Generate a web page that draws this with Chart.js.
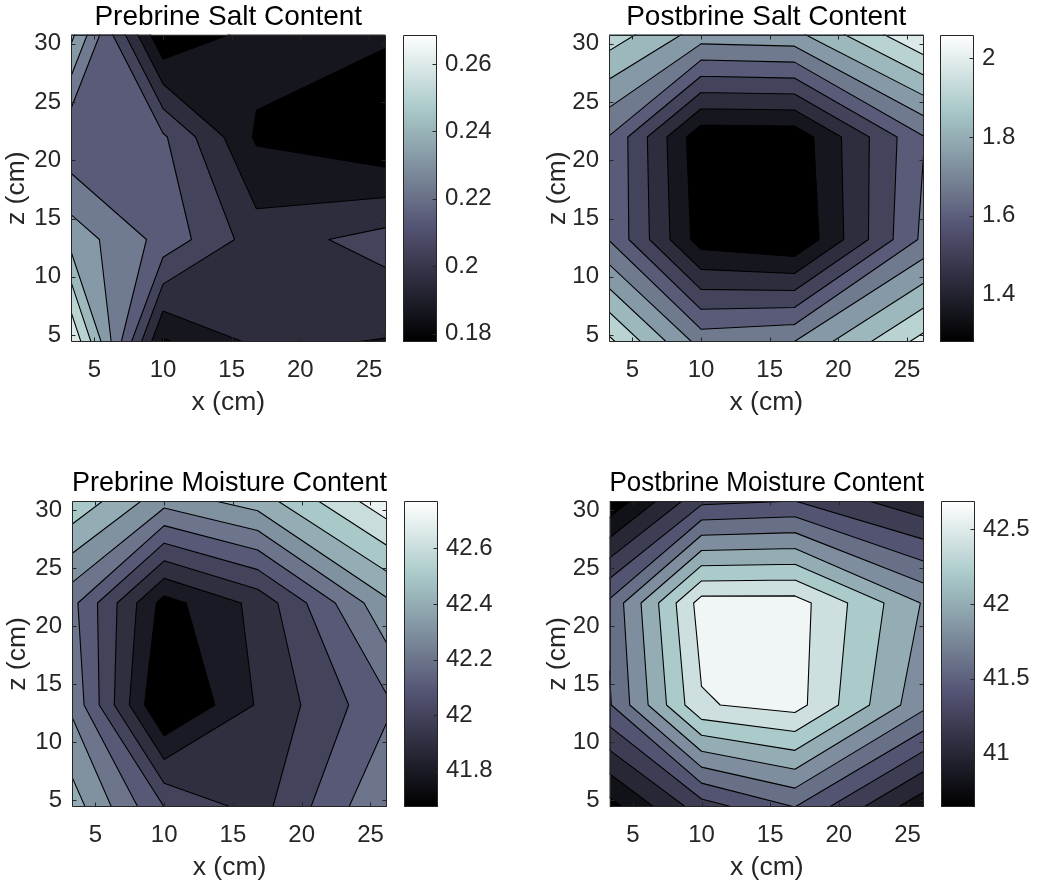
<!DOCTYPE html>
<html>
<head>
<meta charset="utf-8">
<title>Prebrine / Postbrine salt and moisture content</title>
<script src="https://cdn.jsdelivr.net/npm/chart.js@4.4.1/dist/chart.umd.min.js"></script>
<style>
  html, body { margin: 0; padding: 0; background: #ffffff; }
  #fig { position: relative; width: 1042px; height: 886px; overflow: hidden; background: #ffffff; }
  #fig canvas { position: absolute; }
</style>
</head>
<body>
<div id="fig"></div>
<script>
// ---------------- data ----------------
const xPos = [3.3, 10, 16.8, 26.2];      // sampling positions x (cm)
const zPos = [4.4, 13.2, 22, 30.8];      // sampling positions z (cm)
const xTicks = [5, 10, 15, 20, 25];
const zTicks = [5, 10, 15, 20, 25, 30];

// Prebrine salt content, one row per z (bottom to top), one value per x
const preSaltZ1 = [0.2688, 0.1853, 0.1975, 0.1953];
const preSaltZ2 = [0.2378, 0.2200, 0.2003, 0.2085];
const preSaltZ3 = [0.2152, 0.2154, 0.1853, 0.1775];
const preSaltZ4 = [0.2441, 0.1775, 0.1903, 0.1880];
const preSaltLevels = [0.1866, 0.1958, 0.2049, 0.2140, 0.2232, 0.2323, 0.2414, 0.2506, 0.2597];
const preSaltCbTicks = [0.18, 0.2, 0.22, 0.24, 0.26];

// Postbrine salt content
const postSaltZ1 = [2.002, 1.720, 1.750, 2.011];
const postSaltZ2 = [1.667, 1.319, 1.280, 1.688];
const postSaltZ3 = [1.667, 1.300, 1.304, 1.666];
const postSaltZ4 = [1.949, 1.793, 1.805, 2.060];
const postSaltLevels = [1.358, 1.436, 1.514, 1.592, 1.670, 1.748, 1.826, 1.904, 1.982];
const postSaltCbTicks = [1.4, 1.6, 1.8, 2];

// Prebrine moisture content
const preMoistZ1 = [42.45, 42.10, 41.96, 42.30];
const preMoistZ2 = [42.28, 41.67, 41.91, 42.18];
const preMoistZ3 = [42.23, 41.76, 41.93, 42.38];
const preMoistZ4 = [42.58, 42.34, 42.45, 42.77];
const preMoistLevels = [41.8, 41.9, 42.0, 42.1, 42.2, 42.3, 42.4, 42.5, 42.6, 42.7];
const preMoistCbTicks = [41.8, 42, 42.2, 42.4, 42.6];

// Postbrine moisture content
const postMoistZ1 = [40.72, 41.30, 41.60, 40.85];
const postMoistZ2 = [41.58, 42.58, 42.68, 41.85];
const postMoistZ3 = [41.64, 42.69, 42.69, 41.98];
const postMoistZ4 = [40.64, 41.35, 41.40, 41.05];
const postMoistLevels = [40.8, 41.0, 41.2, 41.4, 41.6, 41.8, 42.0, 42.2, 42.4, 42.6];
const postMoistCbTicks = [41, 41.5, 42, 42.5];

// ---------------- helpers ----------------
const FONT = "'Liberation Sans', Arial, Helvetica, sans-serif";
const AXIS_COLOR = '#262626';
const TICK_SIZE = 24;
const LABEL_SIZE = 26.5;
const TITLE_SIZE = 28;

function bone(t) {
  t = Math.max(0, Math.min(1, t));
  const c = v => Math.max(0, Math.min(1, v));
  const r = (7 * t + c(4 * t - 3)) / 8;
  const g = (7 * t + c(8 * t / 3 - 1)) / 8;
  const b = (7 * t + c(8 * t / 3)) / 8;
  return 'rgb(' + Math.round(r * 255) + ',' + Math.round(g * 255) + ',' + Math.round(b * 255) + ')';
}

// polygon of {value >= lv} inside cell (i, j), walking the cell border
function cellPoly(grid, i, j, lv) {
  const cs = [
    [xPos[i], zPos[j], grid[j][i]],
    [xPos[i + 1], zPos[j], grid[j][i + 1]],
    [xPos[i + 1], zPos[j + 1], grid[j + 1][i + 1]],
    [xPos[i], zPos[j + 1], grid[j + 1][i]]
  ];
  const pts = [];
  for (let m = 0; m < 4; m++) {
    const p = cs[m], q = cs[(m + 1) % 4];
    const pin = p[2] >= lv, qin = q[2] >= lv;
    if (pin) pts.push({x: p[0], z: p[1], c: false});
    if (pin !== qin) {
      const t = (lv - p[2]) / (q[2] - p[2]);
      pts.push({x: p[0] + t * (q[0] - p[0]), z: p[1] + t * (q[1] - p[1]), c: true});
    }
  }
  return pts;
}

function contourPlugin(grid, levels) {
  return {
    id: 'contour',
    beforeDatasetsDraw(chart) {
      const {ctx, chartArea: a, scales: {x, y}} = chart;
      const flat = grid.flat();
      const dmin = Math.min(...flat), dmax = Math.max(...flat);
      const px = v => x.getPixelForValue(v), py = v => y.getPixelForValue(v);
      ctx.save();
      ctx.beginPath(); ctx.rect(a.left, a.top, a.width, a.height); ctx.clip();
      const polys = [];
      for (let k = 0; k <= levels.length; k++) {
        // each filled band takes the colour of its lower level; the lowest band the colour of the minimum
        const lower = k === 0 ? dmin : levels[k - 1];
        ctx.fillStyle = bone((lower - dmin) / (dmax - dmin));
        ctx.beginPath();
        for (let j = 0; j < zPos.length - 1; j++) {
          for (let i = 0; i < xPos.length - 1; i++) {
            const pts = cellPoly(grid, i, j, k === 0 ? -Infinity : levels[k - 1]);
            if (pts.length < 3) continue;
            ctx.moveTo(px(pts[0].x), py(pts[0].z));
            for (let m = 1; m < pts.length; m++) ctx.lineTo(px(pts[m].x), py(pts[m].z));
            ctx.closePath();
            if (k > 0) polys.push(pts);
          }
        }
        ctx.fill();
      }
      ctx.strokeStyle = '#000000';
      ctx.lineWidth = 1.1;
      ctx.lineCap = 'round';
      ctx.beginPath();
      for (const pts of polys) {
        for (let m = 0; m < pts.length; m++) {
          const p = pts[m], q = pts[(m + 1) % pts.length];
          if (p.c && q.c) { ctx.moveTo(px(p.x), py(p.z)); ctx.lineTo(px(q.x), py(q.z)); }
        }
      }
      ctx.stroke();
      ctx.restore();
    }
  };
}

const framePlugin = {
  id: 'frame',
  afterDatasetsDraw(chart) {
    const {ctx, chartArea: a, scales: {x, y}} = chart;
    const L = 4;
    const l = Math.round(a.left) + 0.5, r = Math.round(a.right) - 0.5;
    const t = Math.round(a.top) + 0.5, b = Math.round(a.bottom) - 0.5;
    ctx.save();
    ctx.strokeStyle = AXIS_COLOR; ctx.lineWidth = 1;
    ctx.beginPath();
    for (const tk of x.ticks) {
      const p = Math.round(x.getPixelForValue(tk.value)) + 0.5;
      ctx.moveTo(p, b); ctx.lineTo(p, b - L);
      ctx.moveTo(p, t); ctx.lineTo(p, t + L);
    }
    for (const tk of y.ticks) {
      const p = Math.round(y.getPixelForValue(tk.value)) + 0.5;
      ctx.moveTo(l, p); ctx.lineTo(l + L, p);
      ctx.moveTo(r, p); ctx.lineTo(r - L, p);
    }
    ctx.rect(l, t, r - l, b - t);
    ctx.stroke();
    ctx.restore();
  }
};

function colorbarPlugin(cmin, cmax) {
  return {
    id: 'colorbar',
    beforeDatasetsDraw(chart) {
      const {ctx, chartArea: a, scales: {y}} = chart;
      const g = ctx.createLinearGradient(0, y.getPixelForValue(cmin), 0, y.getPixelForValue(cmax));
      for (let i = 0; i <= 64; i++) g.addColorStop(i / 64, bone(i / 64));
      ctx.save();
      ctx.fillStyle = g;
      ctx.fillRect(a.left, a.top, a.width, a.height);
      const l = Math.round(a.left) + 0.5, r = Math.round(a.right) - 0.5;
      const t = Math.round(a.top) + 0.5, b = Math.round(a.bottom) - 0.5;
      ctx.strokeStyle = AXIS_COLOR; ctx.lineWidth = 1;
      ctx.beginPath();
      for (const tk of y.ticks) {
        const p = Math.round(y.getPixelForValue(tk.value)) + 0.5;
        ctx.moveTo(r, p); ctx.lineTo(r - 4, p);
      }
      ctx.rect(l, t, r - l, b - t);
      ctx.stroke();
      ctx.restore();
    }
  };
}

const fig = document.getElementById('fig');
function addCanvas(box) {
  const c = document.createElement('canvas');
  c.width = box.w; c.height = box.h;
  c.style.left = box.left + 'px'; c.style.top = box.top + 'px';
  c.style.width = box.w + 'px'; c.style.height = box.h + 'px';
  fig.appendChild(c);
  return c;
}

const panels = [
  { title: 'Prebrine Salt Content', grid: [preSaltZ1, preSaltZ2, preSaltZ3, preSaltZ4],
    levels: preSaltLevels, cbTicks: preSaltCbTicks,
    box: {left: 0, top: 0, w: 400, h: 443}, yW: 71, padR: 14.5, xH: 101, xTitlePadB: 24.4, yTitlePadT: 1, titlePadT: 0,
    cb: {left: 403, top: 0, w: 100, h: 443}, cbPadT: 34.5, cbPadB: 101 },
  { title: 'Postbrine Salt Content', grid: [postSaltZ1, postSaltZ2, postSaltZ3, postSaltZ4],
    levels: postSaltLevels, cbTicks: postSaltCbTicks,
    box: {left: 521, top: 0, w: 415, h: 443}, yW: 88, padR: 12.5, xH: 101, xTitlePadB: 24.4, yTitlePadT: 21, titlePadT: 0,
    cb: {left: 940, top: 0, w: 100, h: 443}, cbPadT: 34.5, cbPadB: 101 },
  { title: 'Prebrine Moisture Content', grid: [preMoistZ1, preMoistZ2, preMoistZ3, preMoistZ4],
    levels: preMoistLevels, cbTicks: preMoistCbTicks,
    box: {left: 0, top: 466, w: 400, h: 420}, yW: 72, padR: 13, xH: 79, xTitlePadB: 2.4, yTitlePadT: 2, titlePadT: 0.5,
    cb: {left: 404, top: 466, w: 100, h: 420}, cbPadT: 35, cbPadB: 79 },
  { title: 'Postbrine Moisture Content', grid: [postMoistZ1, postMoistZ2, postMoistZ3, postMoistZ4],
    levels: postMoistLevels, cbTicks: postMoistCbTicks,
    box: {left: 521, top: 466, w: 415, h: 420}, yW: 88.5, padR: 12, xH: 79, xTitlePadB: 2.4, yTitlePadT: 21, titlePadT: 0.5,
    cb: {left: 941, top: 466, w: 100, h: 420}, cbPadT: 35, cbPadB: 79 }
];

for (const P of panels) {
  const pts = [];
  for (let j = 0; j < zPos.length; j++)
    for (let i = 0; i < xPos.length; i++) pts.push({x: xPos[i], y: zPos[j], v: P.grid[j][i]});

  new Chart(addCanvas(P.box), {
    type: 'scatter',
    data: { datasets: [{ data: pts, pointRadius: 0, showLine: false }] },
    plugins: [contourPlugin(P.grid, P.levels), framePlugin],
    options: {
      responsive: false, animation: false, events: [],
      layout: { padding: { left: 0, right: P.padR, top: 0, bottom: 0 } },
      plugins: {
        legend: { display: false }, tooltip: { enabled: false },
        title: { display: true, text: P.title, fullSize: false, color: '#000000',
                 font: { family: FONT, size: TITLE_SIZE, weight: 'normal', lineHeight: 1.2 },
                 padding: { top: P.titlePadT, bottom: 0.9 } }
      },
      scales: {
        x: {
          type: 'linear', min: xPos[0], max: xPos[xPos.length - 1],
          afterBuildTicks: s => { s.ticks = xTicks.map(v => ({value: v})); },
          afterFit: s => { s.height = P.xH; },
          grid: { display: false, drawTicks: false }, border: { display: false },
          ticks: { padding: 14, color: AXIS_COLOR, font: { family: FONT, size: TICK_SIZE }, maxRotation: 0 },
          title: { display: true, text: 'x (cm)', color: AXIS_COLOR,
                   font: { family: FONT, size: LABEL_SIZE, lineHeight: 1.2 }, padding: { top: 0, bottom: P.xTitlePadB } }
        },
        y: {
          type: 'linear', min: zPos[0], max: zPos[zPos.length - 1],
          afterBuildTicks: s => { s.ticks = zTicks.map(v => ({value: v})); },
          afterFit: s => { s.width = P.yW; },
          grid: { display: false, drawTicks: false }, border: { display: false },
          ticks: { padding: 10, color: AXIS_COLOR, font: { family: FONT, size: TICK_SIZE } },
          title: { display: true, text: 'z (cm)', color: AXIS_COLOR,
                   font: { family: FONT, size: LABEL_SIZE, lineHeight: 1.2 }, padding: { top: P.yTitlePadT, bottom: 0 } }
        }
      }
    }
  });

  const flat = P.grid.flat();
  const cmin = Math.min(...flat), cmax = Math.max(...flat);
  new Chart(addCanvas(P.cb), {
    type: 'scatter',
    data: { datasets: [{ data: [{x: 0, y: cmin}, {x: 0, y: cmax}], pointRadius: 0 }] },
    plugins: [colorbarPlugin(cmin, cmax)],
    options: {
      responsive: false, animation: false, events: [],
      layout: { padding: { left: 0, right: 0, top: P.cbPadT, bottom: P.cbPadB } },
      plugins: { legend: { display: false }, tooltip: { enabled: false } },
      scales: {
        x: { type: 'linear', display: false, min: 0, max: 1 },
        y: {
          type: 'linear', position: 'right', min: cmin, max: cmax,
          afterBuildTicks: s => { s.ticks = P.cbTicks.map(v => ({value: v})); },
          afterFit: s => { s.width = 66; },
          grid: { display: false, drawTicks: false }, border: { display: false },
          ticks: { padding: 8, color: AXIS_COLOR, font: { family: FONT, size: TICK_SIZE },
                   callback: v => String(v) }
        }
      }
    }
  });
}
</script>
</body>
</html>
